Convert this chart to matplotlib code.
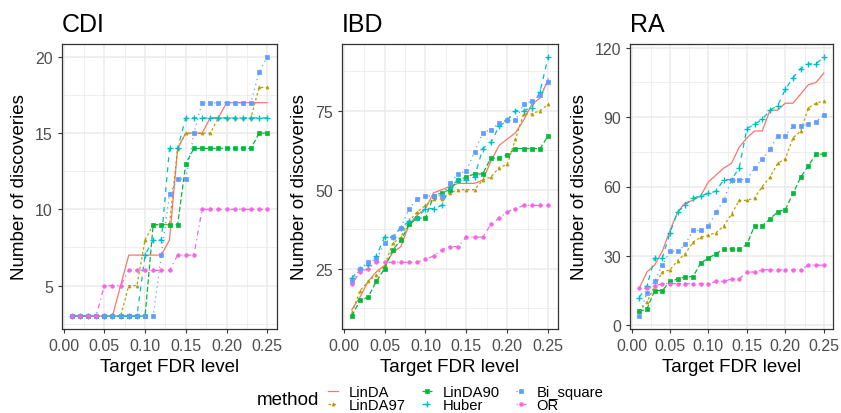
import numpy as np
import matplotlib
matplotlib.use("Agg")
import matplotlib.pyplot as plt
from matplotlib.ticker import AutoMinorLocator

plt.rcParams['font.family'] = ['Liberation Sans', 'DejaVu Sans']

# target FDR levels
fdr = [round(0.01 * i, 2) for i in range(1, 26)]

methods = ['LinDA', 'LinDA97', 'LinDA90', 'Huber', 'Bi_square', 'OR']

# CDI
cdi_linda = [3, 3, 3, 3, 3, 3, 5, 7, 7, 7, 7, 7, 8, 14, 15, 15, 15, 16, 16, 17, 17, 17, 17, 17, 17]
cdi_linda97 = [3, 3, 3, 3, 3, 3, 3, 5, 5, 8, 9, 9, 9, 14, 15, 15, 15, 15, 16, 16, 16, 16, 16, 18, 18]
cdi_linda90 = [3, 3, 3, 3, 3, 3, 3, 3, 3, 3, 9, 9, 9, 9, 13, 14, 14, 14, 14, 14, 14, 14, 14, 15, 15]
cdi_huber = [3, 3, 3, 3, 3, 3, 3, 3, 3, 7, 8, 8, 14, 14, 16, 16, 16, 16, 16, 16, 16, 16, 16, 16, 16]
cdi_bisq = [3, 3, 3, 3, 3, 3, 3, 3, 3, 3, 3, 7, 11, 12, 12, 15, 17, 17, 17, 17, 17, 17, 17, 19, 20]
cdi_or = [3, 3, 3, 3, 5, 5, 5, 6, 6, 6, 6, 6, 6, 7, 7, 7, 10, 10, 10, 10, 10, 10, 10, 10, 10]

# IBD
ibd_linda = [12, 16, 21, 24, 26, 30, 32, 39, 42, 44, 49, 50, 51, 52, 52, 52, 53, 59, 64, 66, 68, 72, 77, 79, 85]
ibd_linda97 = [11, 18, 21, 23, 26, 33, 35, 40, 43, 45, 47, 47, 49, 50, 50, 50, 53, 54, 57, 58, 66, 74, 74, 75, 77]
ibd_linda90 = [10, 15, 16, 21, 25, 31, 34, 39, 41, 41, 48, 49, 50, 53, 54, 55, 55, 60, 60, 61, 63, 63, 63, 63, 67]
ibd_huber = [22, 25, 26, 29, 35, 35, 38, 40, 41, 44, 44, 45, 51, 53, 53, 54, 63, 65, 70, 72, 75, 75, 76, 81, 92]
ibd_bisq = [21, 25, 27, 28, 33, 35, 38, 44, 47, 48, 48, 48, 52, 55, 56, 62, 68, 69, 71, 72, 72, 77, 78, 80, 84]
ibd_or = [20, 24, 25, 27, 27, 27, 27, 27, 27, 28, 29, 31, 32, 32, 35, 35, 35, 39, 41, 43, 44, 45, 45, 45, 45]

# RA
ra_linda = [16, 23, 26, 32, 41, 49, 53, 54, 56, 62, 65, 68, 70, 77, 81, 84, 84, 93, 93, 96, 96, 100, 104, 105, 109]
ra_linda97 = [6, 10, 17, 23, 24, 28, 31, 36, 38, 39, 40, 43, 48, 54, 54, 55, 60, 64, 70, 72, 81, 84, 94, 96, 97]
ra_linda90 = [6, 7, 15, 15, 19, 20, 21, 21, 27, 29, 31, 33, 33, 33, 35, 43, 43, 46, 49, 50, 57, 64, 69, 74, 74]
ra_huber = [12, 17, 29, 29, 40, 49, 52, 55, 56, 57, 58, 63, 63, 68, 85, 87, 89, 93, 95, 102, 107, 111, 113, 113, 116]
ra_bisq = [4, 14, 19, 26, 32, 32, 35, 41, 41, 43, 49, 54, 63, 63, 63, 68, 72, 76, 82, 82, 86, 86, 87, 88, 91]
ra_or = [16, 16, 17, 18, 18, 18, 18, 18, 18, 18, 19, 19, 20, 20, 23, 23, 24, 24, 24, 24, 24, 24, 26, 26, 26]

panels = {
    'CDI': [cdi_linda, cdi_linda97, cdi_linda90, cdi_huber, cdi_bisq, cdi_or],
    'IBD': [ibd_linda, ibd_linda97, ibd_linda90, ibd_huber, ibd_bisq, ibd_or],
    'RA': [ra_linda, ra_linda97, ra_linda90, ra_huber, ra_bisq, ra_or],
}
yticks = {'CDI': [5, 10, 15, 20], 'IBD': [25, 50, 75], 'RA': [0, 30, 60, 90, 120]}

# ggplot hue palette, linetypes and shapes
colors = ['#F8766D', '#B79F00', '#00BA38', '#00BFC4', '#619CFF', '#F564E3']
dashes = [None, (2, 2), (4, 2), (4, 4), (1, 3), (1, 3, 4, 3)]
markers = ['None', '^', 's', '+', 's', 'o']
msizes = [0, 2.2, 2.6, 4.5, 2.6, 2.6]

fig = plt.figure(figsize=(8.41, 4.14), dpi=100)
boxes = {'CDI': [62, 277], 'IBD': [342, 558], 'RA': [630, 833]}
grey92 = '#EBEBEB'

handles = []
for name, series in panels.items():
    x0, x1 = boxes[name]
    ax = fig.add_axes([x0 / 841, 1 - 330 / 414, (x1 - x0) / 841, 285 / 414])
    for i, vals in enumerate(series):
        kw = dict(color=colors[i], lw=0.9, marker=markers[i], ms=msizes[i],
                  mew=1.0 if markers[i] == '+' else 0.5, label=methods[i])
        if dashes[i] is not None:
            kw['dashes'] = dashes[i]
        ln, = ax.plot(fdr, vals, **kw)
        if name == 'CDI':
            handles.append(ln)
    ax.set_xlim(-0.002, 0.262)
    ax.set_xticks([0.0, 0.05, 0.10, 0.15, 0.20, 0.25])
    ax.set_xticklabels(['0.00', '0.05', '0.10', '0.15', '0.20', '0.25'])
    ax.set_yticks(yticks[name])
    ax.xaxis.set_minor_locator(AutoMinorLocator(2))
    ax.yaxis.set_minor_locator(AutoMinorLocator(2))
    ax.grid(which='major', color=grey92, lw=1.1)
    ax.grid(which='minor', color=grey92, lw=0.55)
    ax.set_axisbelow(True)
    for s in ax.spines.values():
        s.set_color('#333333')
        s.set_linewidth(0.9)
    ax.tick_params(which='major', length=3, width=0.8, color='#333333',
                   labelcolor='#4D4D4D', labelsize=11.5, pad=3.5)
    ax.tick_params(which='minor', length=0)
    ax.set_xlabel('Target FDR level', fontsize=13.5, labelpad=3.5)
    ax.set_ylabel('Number of discoveries', fontsize=13.5, labelpad=5)
    ax.set_title(name, loc='left', fontsize=18, pad=9)

fig.text(257 / 841, 1 - 401 / 414, 'method', fontsize=13.5, va='center', ha='left')
fig.legend(handles=handles, ncol=3, loc='upper left',
           bbox_to_anchor=(328 / 841, 1 - 386 / 414), frameon=False,
           fontsize=10.6, handlelength=0.7, handletextpad=0.7,
           columnspacing=1.1, labelspacing=-0.05, borderpad=0, borderaxespad=0)

fig.savefig('out.png', dpi=100)
